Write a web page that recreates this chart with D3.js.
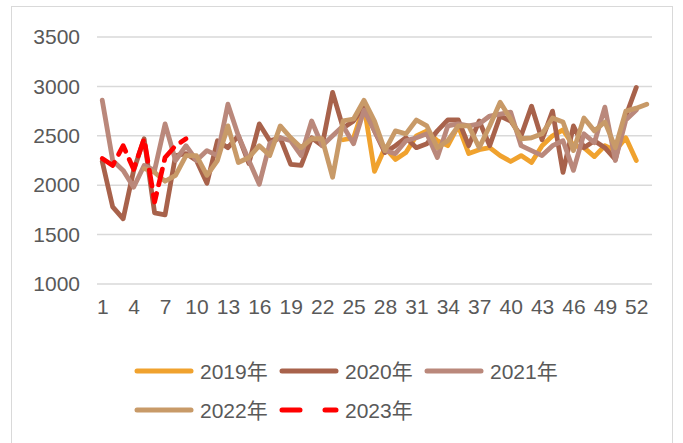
<!DOCTYPE html>
<html>
<head>
<meta charset="utf-8">
<script src="https://cdn.jsdelivr.net/npm/d3@7"></script>
<style>
  body { margin: 0; background: #fff; }
  svg text { font-family: "Liberation Sans", "Noto Sans CJK SC", sans-serif; fill: #595959; }
</style>
</head>
<body>
<script>
// weekly values, week 1..53 (null = no data)
var weeks = d3.range(1, 54);
var yTicks = [1000, 1500, 2000, 2500, 3000, 3500];
var seriesNames = ["2019年", "2020年", "2021年", "2022年", "2023年"];

var v2019 = [null, null, null, null, null, null, null, null, null, null,
  null, null, null, null, null, null, null, null, null, null,
  null, null, null, 2460, 2480, 2800, 2140, 2380, 2260, 2330,
  2500, 2550, 2450, 2400, 2600, 2320, 2360, 2380, 2300, 2240,
  2300, 2230, 2400, 2500, 2560, 2400, 2380, 2290, 2400, 2350,
  2480, 2250];
var v2020 = [2240, 1780, 1660, 2150, 2470, 1720, 1700, 2300, 2320, 2250,
  2020, 2450, 2380, 2500, 2220, 2620, 2450, 2480, 2210, 2200,
  2480, 2400, 2940, 2580, 2650, 2800, 2550, 2330, 2400, 2480,
  2380, 2420, 2550, 2660, 2660, 2400, 2650, 2400, 2700, 2650,
  2500, 2800, 2460, 2750, 2130, 2600, 2380, 2450, 2380, 2260,
  2700, 2990];
var v2021 = [2860, 2250, 2150, 1980, 2200, 2150, 2620, 2250, 2400, 2250,
  2350, 2300, 2820, 2500, 2250, 2010, 2420, 2480, 2450, 2300,
  2650, 2400, 2500, 2600, 2420, 2760, 2550, 2350, 2320, 2450,
  2480, 2520, 2280, 2600, 2620, 2600, 2620, 2700, 2720, 2740,
  2400, 2350, 2300, 2400, 2450, 2150, 2520, 2430, 2790, 2250,
  2660, 2760];
var v2022 = [null, null, null, null, 2170, 2130, 2040, 2100, 2300, 2300,
  2100, 2250, 2600, 2230, 2280, 2400, 2300, 2600, 2480, 2380,
  2470, 2470, 2080, 2650, 2670, 2860, 2650, 2350, 2550, 2520,
  2660, 2600, 2380, 2450, 2600, 2600, 2380, 2600, 2840, 2670,
  2470, 2480, 2520, 2680, 2640, 2350, 2680, 2550, 2640, 2380,
  2750, 2780, 2820];
var v2023 = [2270, 2200, 2400, 2160, 2470, 1830, 2280, 2400, 2470];

var colors = ["#f0a22e", "#a8624b", "#ba887b", "#c89a68", "#ff0000"];
var allValues = [v2019, v2020, v2021, v2022, v2023];

var w = 683, h = 443;

var svg = d3.select("body").append("svg")
    .attr("width", w)
    .attr("height", h);

// chart frame
svg.append("rect")
    .attr("x", 11.5).attr("y", 6.5)
    .attr("width", 661).attr("height", 450)
    .attr("fill", "none")
    .attr("stroke", "#d9d9d9");

var x = d3.scalePoint()
    .domain(weeks)
    .range([97, 652])
    .padding(0.5);

var y = d3.scaleLinear()
    .domain([1000, 3500])
    .range([284, 37]);

// gridlines
svg.append("g").selectAll("line")
    .data(yTicks)
    .join("line")
    .attr("x1", 97).attr("x2", 652)
    .attr("y1", d => y(d)).attr("y2", d => y(d))
    .attr("stroke", "#d9d9d9")
    .attr("stroke-width", 1.5);

// y labels
var yAxis = svg.append("g")
    .attr("transform", "translate(80,0)")
    .call(d3.axisLeft(y).tickValues(yTicks).tickFormat(d3.format("d")).tickSize(0).tickPadding(0));
yAxis.select(".domain").remove();
yAxis.selectAll("text")
    .attr("font-size", 21)
    .attr("font-family", null);

// x labels, every third week
var xAxis = svg.append("g")
    .attr("transform", "translate(0,299)")
    .call(d3.axisBottom(x).tickValues(weeks.filter(d => (d - 1) % 3 === 0)).tickSize(0).tickPadding(0));
xAxis.select(".domain").remove();
xAxis.selectAll("text")
    .attr("font-size", 21)
    .attr("font-family", null);

// series lines
var line = d3.line()
    .defined(d => d.v !== null)
    .x(d => x(d.week))
    .y(d => y(d.v));

allValues.forEach(function(vals, i) {
    var pts = vals.map((v, j) => ({ week: weeks[j], v: v }));
    svg.append("path")
        .datum(pts)
        .attr("fill", "none")
        .attr("stroke", colors[i])
        .attr("stroke-width", 4.8)
        .attr("stroke-linejoin", "round")
        .attr("stroke-linecap", "round")
        .attr("stroke-dasharray", i === 4 ? "16,9" : null)
        .attr("d", line);
});

// legend
var legendPos = [
    { x: 137, y: 371 }, { x: 282, y: 371 }, { x: 427, y: 371 },
    { x: 137, y: 410 }, { x: 282, y: 410 }
];
seriesNames.forEach(function(name, i) {
    var p = legendPos[i];
    svg.append("line")
        .attr("x1", p.x).attr("x2", p.x + 54)
        .attr("y1", p.y).attr("y2", p.y)
        .attr("stroke", colors[i])
        .attr("stroke-width", 5)
        .attr("stroke-linecap", "round")
        .attr("stroke-dasharray", i === 4 ? "18,25" : null);
    svg.append("text")
        .attr("x", p.x + 63)
        .attr("y", p.y + 8)
        .attr("font-size", 21)
        .text(name);
});
</script>
</body>
</html>
